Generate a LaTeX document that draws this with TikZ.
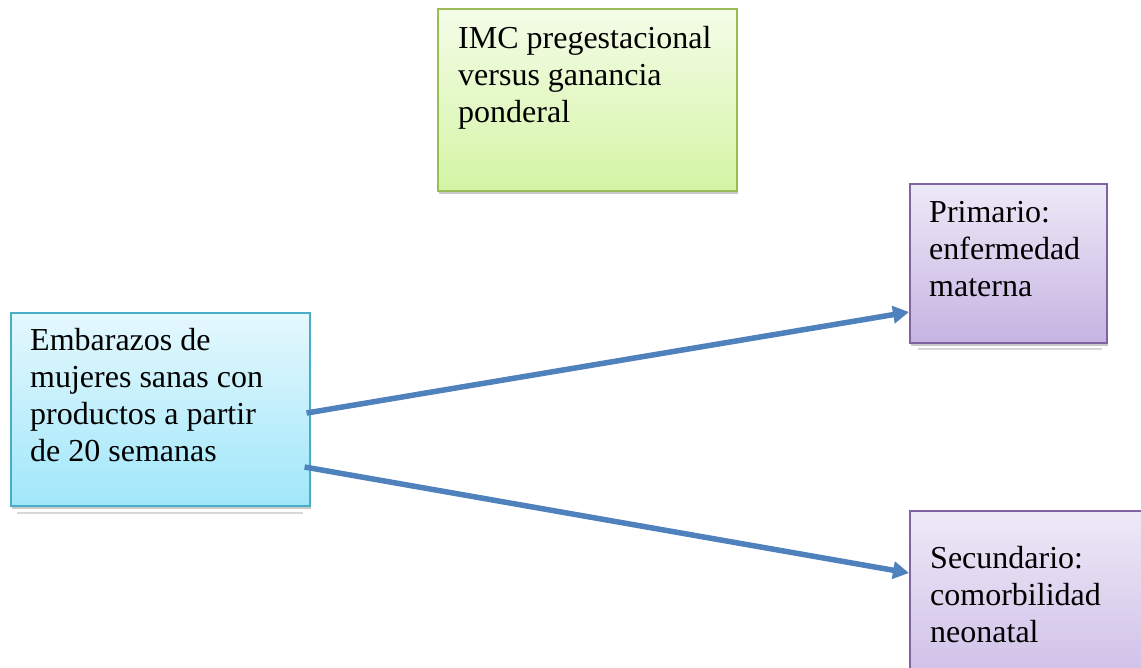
\documentclass[tikz,border=0pt]{standalone}
\usepackage{fontspec}
\setmainfont{Liberation Serif}
\usetikzlibrary{arrows.meta,shadows,calc}
\definecolor{aquaB}{HTML}{4BACC6}
\definecolor{aquaT}{HTML}{E5F8FD}
\definecolor{aquaBo}{HTML}{A0E7FA}
\definecolor{greenB}{HTML}{9BBB59}
\definecolor{greenT}{HTML}{F4FCE8}
\definecolor{greenBo}{HTML}{D4F5A4}
\definecolor{purpB}{HTML}{8064A2}
\definecolor{purpT}{HTML}{EEE9F7}
\definecolor{purpBo}{HTML}{C6B3E2}
\definecolor{arrowB}{HTML}{4F81BD}
\begin{document}
\begin{tikzpicture}[x=1pt,y=-1pt,
  box/.style={rectangle, line width=1.6pt, inner sep=0pt, anchor=north west,
    drop shadow={shadow xshift=1.5pt, shadow yshift=-3pt, opacity=0.35, fill=black!60}},
  bluebox/.style={box, draw=aquaB, top color=aquaT, bottom color=aquaBo},
  greenbox/.style={box, draw=greenB, top color=greenT, bottom color=greenBo},
  purpbox/.style={box, draw=purpB, top color=purpT, bottom color=purpBo},
  strip/.style={fill=white, drop shadow={shadow xshift=0pt, shadow yshift=-1.5pt, opacity=0.25, fill=black!60}},
  txt/.style={anchor=north west, align=left, inner sep=0pt,
    font=\fontsize{32}{37}\selectfont},
  conn/.style={draw=arrowB, line width=5.5pt, -{Triangle[length=16pt,width=17pt]}}]
\useasboundingbox (0,0) rectangle (1141,667);
\clip (0,0) rectangle (1141,667);
\fill[white] (0,0) rectangle (1141,667);
% strips below boxes
\path[strip] (17,502) rectangle (303,512);
\path[strip] (918,338) rectangle (1102,348);
% boxes
\node[bluebox, minimum width=299pt, minimum height=193pt] (blue) at (10,312) {};
\node[greenbox, minimum width=299pt, minimum height=182pt] (green) at (437,8) {};
\node[purpbox, minimum width=197pt, minimum height=159pt] (p1) at (909,183) {};
\node[purpbox, minimum width=260pt, minimum height=220pt] (p2) at (909,510) {};
% texts
\node[txt] (tblue) at (30,328) {Embarazos de\\mujeres sanas con\\productos a partir\\de 20 semanas};
\node[txt] (tgreen) at (458,26) {IMC pregestacional\\versus ganancia\\ponderal};
\node[txt] (tp1) at (929,201) {Primario:\\enfermedad\\materna};
\node[txt] (tp2) at (930,546) {Secundario:\\comorbilidad\\neonatal};
% connectors
\coordinate (s1) at ($(blue.north east)+(-4,101)$);
\coordinate (s2) at ($(blue.north east)+(-6,155)$);
\coordinate (e1) at ($(p1.north west)+(0,129)$);
\coordinate (e2) at ($(p2.north west)+(0,63)$);
\draw[conn] (s1) -- (e1);
\draw[conn] (s2) -- (e2);
\end{tikzpicture}
\end{document}
